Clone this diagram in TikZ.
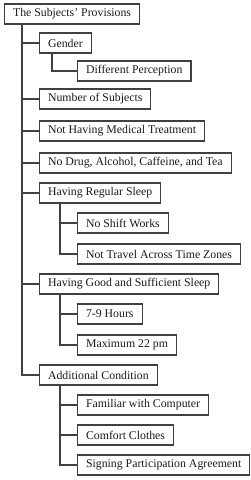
\documentclass[tikz,border=0pt]{standalone}
\usepackage{fontspec}
\setmainfont{Liberation Serif}
\begin{document}
\begin{tikzpicture}[x=1pt,y=-1pt,
  box/.style={draw=black!75, line width=1.1pt, anchor=west, minimum height=20pt,
    inner xsep=8.5pt, inner ysep=0pt, font=\fontsize{11.8}{13}\selectfont, text=black!90},
  link/.style={draw=black!75, line width=1.1pt}]
\useasboundingbox (0,0) rectangle (251,480);
\node[box] (root) at (4,14) {The Subjects’ Provisions};
\node[box] (gender) at (39,43) {Gender};
\node[box] (diff) at (77,71) {Different Perception};
\node[box] (num) at (39,99) {Number of Subjects};
\node[box] (med) at (39,131) {Not Having Medical Treatment};
\node[box] (drug) at (39,163) {No Drug, Alcohol, Caffeine, and Tea};
\node[box] (reg) at (39,193) {Having Regular Sleep};
\node[box] (shift) at (77,223) {No Shift Works};
\node[box] (travel) at (77,254) {Not Travel Across Time Zones};
\node[box] (good) at (39,284) {Having Good and Sufficient Sleep};
\node[box] (hours) at (77,314) {7-9 Hours};
\node[box] (max) at (77,345) {Maximum 22 pm};
\node[box] (add) at (39,375) {Additional Condition};
\node[box] (fam) at (77,405) {Familiar with Computer};
\node[box] (comf) at (77,435) {Comfort Clothes};
\node[box] (sign) at (77,465) {Signing Participation Agreement};
\foreach \c in {gender,num,med,drug,reg,good,add}
  \draw[link] ([xshift=18pt]root.south west) |- (\c.west);
\draw[link] ([xshift=13pt]gender.south west) |- (diff.west);
\foreach \c in {shift,travel}
  \draw[link] ([xshift=21pt]reg.south west) |- (\c.west);
\foreach \c in {hours,max}
  \draw[link] ([xshift=21pt]good.south west) |- (\c.west);
\foreach \c in {fam,comf,sign}
  \draw[link] ([xshift=21pt]add.south west) |- (\c.west);
\end{tikzpicture}
\end{document}
